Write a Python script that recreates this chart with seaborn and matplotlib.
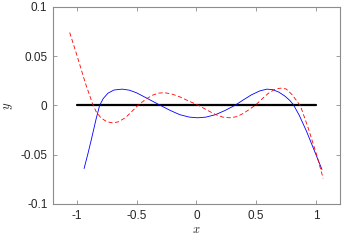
import numpy as np
import pandas as pd
import matplotlib
matplotlib.use('Agg')
import matplotlib.pyplot as plt
import seaborn as sns

# Значения
blue_x = [-0.94, -0.91, -0.88, -0.84, -0.81, -0.78, -0.74, -0.69, -0.62, -0.56,
          -0.50, -0.44, -0.37, -0.30, -0.22, -0.14, -0.06, 0.01, 0.08, 0.16,
          0.24, 0.32, 0.39, 0.46, 0.53, 0.59, 0.64, 0.69, 0.74, 0.78,
          0.81, 0.86, 0.92, 0.99, 1.05]
blue_y = [-0.064, -0.050, -0.035, -0.014, 0.0, 0.007, 0.0125, 0.0157, 0.0166, 0.0155,
          0.0128, 0.009, 0.0045, 0.0, -0.005, -0.0093, -0.0118, -0.0125, -0.0118, -0.0093,
          -0.005, 0.0, 0.0055, 0.0108, 0.0148, 0.0166, 0.016, 0.0135, 0.0095, 0.0052,
          0.001, -0.010, -0.026, -0.047, -0.065]

red_x = [-1.06, -1.00, -0.93, -0.87, -0.84, -0.80, -0.75, -0.70, -0.65, -0.59,
         -0.54, -0.49, -0.43, -0.37, -0.32, -0.27, -0.21, -0.14, -0.07, 0.02,
         0.09, 0.16, 0.22, 0.28, 0.34, 0.40, 0.45, 0.49, 0.55, 0.60,
         0.65, 0.70, 0.75, 0.80, 0.84, 0.87, 0.935, 1.005, 1.06]
red_y = [0.074, 0.051, 0.023, 0.002, -0.006, -0.0125, -0.0165, -0.0177, -0.0165, -0.012,
         -0.006, 0.0, 0.0058, 0.0103, 0.0125, 0.013, 0.0118, 0.0088, 0.0048, 0.0,
         -0.0048, -0.0092, -0.0118, -0.0125, -0.0113, -0.0075, -0.0033, 0.0, 0.0068, 0.0122,
         0.016, 0.0176, 0.0168, 0.011, 0.0045, -0.0005, -0.023, -0.050, -0.074]

black_x = [-1.0, 1.0]
black_y = [0.0, 0.0]

x_ticks = [-1, -0.5, 0, 0.5, 1]
x_tick_labels = ['-1', '-0.5', '0', '0.5', '1']
y_ticks = [-0.1, -0.05, 0, 0.05, 0.1]
y_tick_labels = ['-0.1', '-0.05', '0', '0.05', '0.1']

sns.set_style('ticks')
plt.rcParams['font.family'] = ['Liberation Sans', 'DejaVu Sans']
plt.rcParams['mathtext.fontset'] = 'cm'

fig = plt.figure(figsize=(3.43, 2.40), dpi=100)
ax = fig.add_axes([0.1545, 0.15, 0.8365, 0.821])

sns.lineplot(x=black_x, y=black_y, color='black', linewidth=1.6, ax=ax,
             sort=False, estimator=None)
sns.lineplot(x=blue_x, y=blue_y, color='blue', linewidth=0.6, ax=ax,
             sort=False, estimator=None)
sns.lineplot(x=red_x, y=red_y, color='red', linewidth=0.6, ax=ax,
             sort=False, estimator=None, linestyle=(0, (5, 3)))

ax.set_xlim(-1.2, 1.2)
ax.set_ylim(-0.1, 0.1)
ax.set_xticks(x_ticks)
ax.set_xticklabels(x_tick_labels)
ax.set_yticks(y_ticks)
ax.set_yticklabels(y_tick_labels)

for s in ax.spines.values():
    s.set_visible(True)
    s.set_color('#8c8c8c')
    s.set_linewidth(0.8)
ax.tick_params(direction='in', length=3, width=0.6, color='#8c8c8c',
               labelsize=8.5, labelcolor='#262626', top=True, right=True, pad=4)

ax.set_xlabel('$x$', fontsize=9, color='#262626', labelpad=2)
ax.set_ylabel('$y$', fontsize=9, color='#262626', labelpad=4)

fig.savefig('out.png', dpi=100)
